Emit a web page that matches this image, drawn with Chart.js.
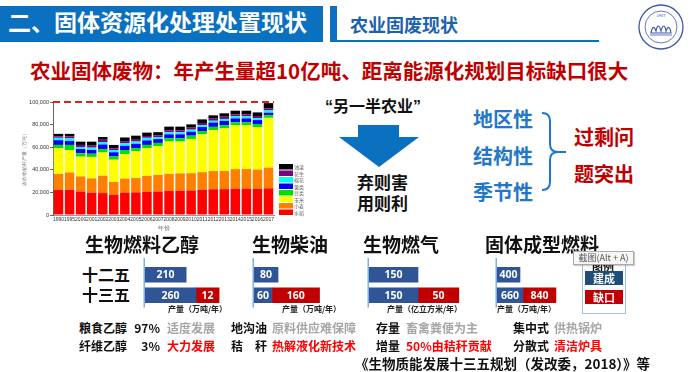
<!DOCTYPE html>
<html><head><meta charset="utf-8">
<script src="https://cdn.jsdelivr.net/npm/chart.js@4.4.1/dist/chart.umd.min.js"></script>
<style>
html,body{margin:0;padding:0;background:#fff;}
#page{position:relative;width:692px;height:372px;overflow:hidden;background:#fff;font-family:"Noto Sans CJK SC","Noto Sans",sans-serif;}
.t{position:absolute;white-space:nowrap;line-height:1;font-weight:bold;}
canvas{position:absolute;}
.q{font-family:"Liberation Sans",sans-serif;}
</style></head>
<body><div id="page">
  <!-- header -->
  <div style="position:absolute;left:0;top:6px;width:323px;height:36px;background:#0a70c0;"></div>
  <div class="t" style="left:8px;top:10px;font-size:23px;color:#fff;">二、固体资源化处理处置现状</div>
  <div style="position:absolute;left:330px;top:6px;width:7px;height:36px;background:#0a70c0;"></div>
  <div style="position:absolute;left:337px;top:40px;width:262px;height:2px;background:#0a70c0;"></div>
  <div class="t" style="left:350px;top:15px;font-size:18px;color:#1a62b0;">农业固废现状</div>
  <svg style="position:absolute;left:638px;top:3px" width="46" height="48" viewBox="0 0 46 48">
    <circle cx="23" cy="24" r="22" fill="#fff" stroke="#3c5aa6" stroke-width="1.3"/>
    <circle cx="23" cy="24" r="16" fill="none" stroke="#3c5aa6" stroke-width="0.8"/>
    <text x="23" y="14" font-size="4" text-anchor="middle" fill="#3c5aa6">1907</text>
    <path d="M13 30 Q15 20 18 28 Q20 18 23 28 Q26 18 28 28 Q31 20 33 30 Z" fill="none" stroke="#3c5aa6" stroke-width="1.2"/>
    <path d="M12 32 L34 32" stroke="#3c5aa6" stroke-width="0.8"/>
  </svg>
  <div class="t" style="left:30px;top:60px;font-size:20.5px;color:#c00000;">农业固体废物：年产生量超10亿吨、距离能源化规划目标缺口很大</div>

  <!-- middle -->
  <canvas id="main" width="290" height="138" style="left:22px;top:94px;"></canvas>
  <div class="t" style="left:325px;top:97px;font-size:16px;color:#111;"><span class="q">“</span>另一半农业<span class="q">”</span></div>
  <svg style="position:absolute;left:330px;top:115px" width="100" height="60">
    <polygon points="28,10 69,10 69,22 89,22 49,52 9,22 28,22" fill="#0a70c0"/>
  </svg>
  <div class="t" style="left:357px;top:173px;font-size:17px;color:#111;">弃则害</div>
  <div class="t" style="left:357px;top:194px;font-size:17px;color:#111;">用则利</div>
  <div class="t" style="left:473px;top:109px;font-size:20px;color:#1f78c8;">地区性</div>
  <div class="t" style="left:473px;top:146px;font-size:20px;color:#1f78c8;">结构性</div>
  <div class="t" style="left:473px;top:182px;font-size:20px;color:#1f78c8;">季节性</div>
  <svg style="position:absolute;left:538px;top:108px" width="34" height="88">
    <path d="M4 5 Q12 5 12 13 L12 36 Q12 44 20 44 L28 44 M20 44 Q12 44 12 52 L12 74 Q12 82 4 82" fill="none" stroke="#1f78c8" stroke-width="2"/>
  </svg>
  <div class="t" style="left:574px;top:127px;font-size:20px;color:#c00000;">过剩问</div>
  <div class="t" style="left:574px;top:164px;font-size:20px;color:#c00000;">题突出</div>

  <!-- bottom -->
  <div class="t" style="left:85px;top:234px;font-size:19px;color:#111;">生物燃料乙醇</div>
  <div class="t" style="left:252px;top:234px;font-size:19px;color:#111;">生物柴油</div>
  <div class="t" style="left:363px;top:234px;font-size:19px;color:#111;">生物燃气</div>
  <div class="t" style="left:485px;top:234px;font-size:19px;color:#111;">固体成型燃料</div>
  <div class="t" id="p0" style="left:82px;top:266px;font-size:16px;color:#111;"></div>
  <div class="t" id="p1" style="left:82px;top:286px;font-size:16px;color:#111;"></div>
  <canvas id="c1" width="100" height="54" style="left:143px;top:256px;"></canvas>
  <canvas id="c2" width="100" height="54" style="left:252px;top:256px;"></canvas>
  <canvas id="c3" width="100" height="54" style="left:367px;top:256px;"></canvas>
  <canvas id="c4" width="100" height="54" style="left:495px;top:256px;"></canvas>
  <div class="t" style="left:168px;top:305px;font-size:8px;color:#222;">产量（万吨/年）</div>
  <div class="t" style="left:282px;top:305px;font-size:8px;color:#222;">产量（万吨/年）</div>
  <div class="t" style="left:387px;top:305px;font-size:8px;color:#222;">产量（亿立方米/年）</div>
  <div class="t" style="left:497px;top:305px;font-size:8px;color:#222;">产量（万吨/年）</div>

  <div style="position:absolute;left:582px;top:258px;width:42px;height:54px;border:1px solid #9dc3e6;"></div>
  <div class="t" style="left:592px;top:261px;font-size:11px;color:#111;">图例</div>
  <div class="t" style="left:585px;top:271px;width:38px;height:14px;line-height:14px;background:#1f4e79;color:#fff;font-size:11px;text-align:center;">建成</div>
  <div class="t" style="left:585px;top:290px;width:38px;height:14px;line-height:14px;background:#c00000;color:#fff;font-size:11px;text-align:center;">缺口</div>
  <div style="position:absolute;left:573px;top:251px;width:59px;height:12px;background:#f6f6f6;border:1px solid #aaa;box-shadow:1px 1px 1px rgba(0,0,0,0.2);font-size:9px;line-height:12px;color:#555;text-align:center;font-family:'Noto Sans CJK SC',sans-serif;white-space:nowrap;">截图(Alt + A)</div>

  <div class="t" style="left:79px;top:322px;font-size:12px;color:#111;">粮食乙醇</div>
  <div class="t" style="left:128px;top:322px;width:32px;text-align:right;font-size:12px;color:#111;">97%</div>
  <div class="t" style="left:167px;top:322px;font-size:12px;color:#a6a6a6;">适度发展</div>
  <div class="t" style="left:231px;top:322px;font-size:12px;color:#111;">地沟油</div>
  <div class="t" style="left:272px;top:322px;font-size:12px;color:#a6a6a6;">原料供应难保障</div>
  <div class="t" style="left:376px;top:322px;font-size:12px;color:#111;">存量</div>
  <div class="t" style="left:406px;top:322px;font-size:12px;color:#a6a6a6;">畜禽粪便为主</div>
  <div class="t" style="left:513px;top:322px;font-size:12px;color:#111;">集中式</div>
  <div class="t" style="left:554px;top:322px;font-size:12px;color:#a6a6a6;">供热锅炉</div>

  <div class="t" style="left:79px;top:340px;font-size:12px;color:#111;">纤维乙醇</div>
  <div class="t" style="left:128px;top:340px;width:32px;text-align:right;font-size:12px;color:#111;">3%</div>
  <div class="t" style="left:167px;top:340px;font-size:12px;color:#ff0000;">大力发展</div>
  <div class="t" style="left:231px;top:340px;font-size:12px;color:#111;">秸　秆</div>
  <div class="t" style="left:272px;top:340px;font-size:12px;color:#ff0000;">热解液化新技术</div>
  <div class="t" style="left:376px;top:340px;font-size:12px;color:#111;">增量</div>
  <div class="t" style="left:406px;top:340px;font-size:12px;color:#ff0000;">50%由秸秆贡献</div>
  <div class="t" style="left:513px;top:340px;font-size:12px;color:#111;">分散式</div>
  <div class="t" style="left:554px;top:340px;font-size:12px;color:#ff0000;">清洁炉具</div>

  <div class="t" style="left:355px;top:357px;font-size:13.5px;color:#111;">《生物质能发展十三五规划（发改委，2018）》等</div>
</div>
<script>
// ---------- main stacked chart data (万吨) ----------
const years = ['1990','1995','2000','2001','2002','2003','2004','2005','2006','2007','2008','2009','2010','2011','2012','2013','2014','2015','2016','2017'];
const cropNames = ['水稻','小麦','玉米','豆类','薯类','棉花','花生','油菜'];
const rice     = [22100,22300,20800,19800,19400,17900,19800,20000,20400,20800,21300,21500,21700,22400,22800,22900,23300,23400,23200,23600];
const wheat    = [14200,15300,13400,12600,15400,11300,12400,12800,14200,14700,15100,15300,15300,15500,16100,16100,17300,17300,17000,18300];
const corn     = [22700,19900,17400,19000,20500,19700,21500,23700,24600,25500,28600,28100,30300,33500,36100,37600,38700,38700,37700,44100];
const beans    = [3000,4500,3000,2800,3000,2900,3800,2700,2800,2800,2900,2900,2900,2900,3000,2900,2700,2600,2600,2300];
const tubers   = [4200,3500,3800,3400,4100,3700,3800,3800,4000,3400,3500,3600,3500,3600,3800,3800,3500,3500,3500,2200];
const cotton   = [2100,2300,1800,2000,2200,2000,2100,2000,2300,1800,1800,1800,1800,1700,1600,1700,1800,1800,1800,2000];
const peanut   = [1300,1800,1800,1800,2000,1500,2000,1600,1600,1500,1800,1800,1800,1800,1900,2000,1700,1700,1800,1700];
const rapeseed = [2200,2200,2900,3500,2400,3000,3200,3600,3000,2800,3200,3200,2900,3200,2900,3000,3300,3300,3200,4800];
const targetTotal = 100000;

// ---------- small bar charts ----------
const periods = ['十二五','十三五'];
// printed numbers
const ethanolBuilt = [210, 260], ethanolGap = [null, 12];
const dieselBuilt  = [80, 60],   dieselGap  = [null, 160];
const gasBuilt     = [150, 150], gasGap     = [null, 50];
const solidBuilt   = [400, 660], solidGap   = [null, 840];
// bar lengths as drawn on the slide (the slide does not draw all bars to scale)
const ethanolBuiltLen = [210, 260], ethanolGapLen = [null, 118];
const dieselBuiltLen  = [80, 60],   dieselGapLen  = [null, 158];
const gasBuiltLen     = [150, 150], gasGapLen     = [null, 125];
const solidBuiltLen   = [400, 450], solidGapLen   = [null, 575];

document.getElementById('p0').textContent = periods[0];
document.getElementById('p1').textContent = periods[1];

const cropColors = ['#ff0000','#ff8000','#ffff00','#00e000','#0000ff','#00ffff','#800080','#000000'];
const cropSeries = [rice, wheat, corn, beans, tubers, cotton, peanut, rapeseed];

const targetLine = {
  id:'targetLine',
  afterDatasetsDraw(chart){
    const {ctx, chartArea:ca, scales} = chart;
    const y = scales.y.getPixelForValue(targetTotal);
    ctx.save();
    ctx.strokeStyle = '#e3211c'; ctx.lineWidth = 2; ctx.setLineDash([7,4]);
    ctx.beginPath(); ctx.moveTo(ca.left, y); ctx.lineTo(ca.right, y); ctx.stroke();
    ctx.restore();
  }
};
const cropLegend = {
  id:'cropLegend',
  afterDraw(chart){
    const {ctx, chartArea:ca} = chart;
    const n = chart.data.datasets.length, h = 6.5;
    ctx.save();
    ctx.font = '5px "Noto Sans CJK SC"'; ctx.textBaseline = 'middle';
    for (let k = 0; k < n; k++){
      const ds = chart.data.datasets[n-1-k];
      const y = ca.bottom + 1 - n*h + k*h;
      ctx.fillStyle = ds.backgroundColor; ctx.fillRect(ca.right+5, y, 14, h-1);
      ctx.fillStyle = '#666'; ctx.fillText(ds.label, ca.right+20, y + h/2);
    }
    ctx.restore();
  }
};

new Chart(document.getElementById('main'), {
  type:'bar',
  data:{labels:years, datasets:cropNames.map((n,i)=>({label:n, data:cropSeries[i], backgroundColor:cropColors[i], borderWidth:0, barPercentage:0.86, categoryPercentage:1}))},
  options:{
    responsive:false, animation:false,
    layout:{padding:{top:8,right:38,bottom:0,left:0}},
    plugins:{legend:{display:false}, tooltip:{enabled:false}},
    scales:{
      x:{stacked:true, grid:{display:false, drawTicks:false}, border:{color:'#999'},
         ticks:{font:{size:5, family:'Liberation Sans'}, color:'#333', maxRotation:0, minRotation:0, autoSkip:false, padding:2},
         title:{display:true, text:'年份', font:{size:5.5}, color:'#666', padding:{top:2,bottom:0}},
         afterFit(s){ s.height = 17; }},
      y:{stacked:true, min:0, max:100000,
         ticks:{stepSize:20000, font:{size:5.5, family:'Liberation Sans'}, color:'#333', padding:1},
         grid:{display:true, drawOnChartArea:false, tickLength:3, color:'#666'},
         border:{color:'#666'},
         title:{display:true, text:'农作物秸秆产量（万吨）', font:{size:4.5}, color:'#777', padding:0},
         afterFit(s){ s.width = 31; }}
    }
  },
  plugins:[targetLine, cropLegend]
});

function smallChart(id, builtLen, gapLen, builtText, gapText, maxVal){
  const texts = [builtText, gapText];
  const barText = {
    id:'barText',
    afterDatasetsDraw(chart){
      const ctx = chart.ctx;
      ctx.save();
      ctx.font = 'bold 10.5px "Noto Sans"'; ctx.fillStyle = '#fff';
      ctx.textAlign = 'center'; ctx.textBaseline = 'middle';
      chart.data.datasets.forEach((ds, di)=>{
        chart.getDatasetMeta(di).data.forEach((el, i)=>{
          if (ds.data[i] == null) return;
          ctx.fillText(String(texts[di][i]), (el.x + el.base)/2, el.y + 0.5);
        });
      });
      ctx.restore();
    }
  };
  const axisLine = {
    id:'axisLine',
    afterDraw(chart){
      const {ctx, chartArea:ca} = chart;
      ctx.save(); ctx.strokeStyle = '#7fb0e0'; ctx.lineWidth = 1.5;
      ctx.beginPath(); ctx.moveTo(ca.left-0.75, ca.top-6.5); ctx.lineTo(ca.left-0.75, ca.bottom+2); ctx.stroke();
      ctx.restore();
    }
  };
  new Chart(document.getElementById(id), {
    type:'bar',
    data:{labels:periods, datasets:[
      {label:'建成', data:builtLen, backgroundColor:'#2f5597', barThickness:15},
      {label:'缺口', data:gapLen, backgroundColor:'#c00000', barThickness:15}
    ]},
    options:{indexAxis:'y', responsive:false, animation:false,
      layout:{padding:{left:2, top:8.5, bottom:4.5, right:0}},
      plugins:{legend:{display:false}, tooltip:{enabled:false}},
      scales:{x:{stacked:true, display:false, min:0, max:maxVal}, y:{stacked:true, display:false}}},
    plugins:[barText, axisLine]
  });
}
smallChart('c1', ethanolBuiltLen, ethanolGapLen, ethanolBuilt, ethanolGap, 500);
smallChart('c2', dieselBuiltLen, dieselGapLen, dieselBuilt, dieselGap, 326);
smallChart('c3', gasBuiltLen, gasGapLen, gasBuilt, gasGap, 300);
smallChart('c4', solidBuiltLen, solidGapLen, solidBuilt, solidGap, 1705);
</script>
</body></html>
